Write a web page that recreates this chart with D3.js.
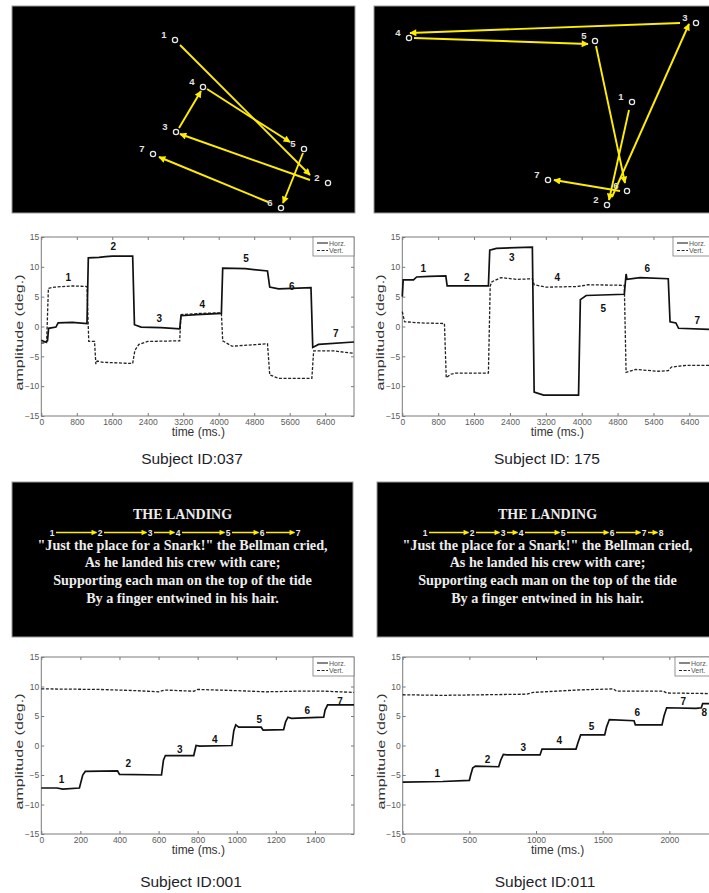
<!DOCTYPE html>
<html>
<head>
<meta charset="utf-8">
<script src="https://cdn.jsdelivr.net/npm/d3@7"></script>
<style>
  body { margin: 0; background: #fff; }
  svg { display: block; font-family: "Liberation Sans", Arial, sans-serif; }
</style>
</head>
<body>
<svg id="fig" width="709" height="893"></svg>
<script>
// ---- scanpath panels: target dots and recorded saccades (stimulus screen px) ----
const dots037 = [[163,34],[316,177],[164,126],[191,81],[292,143],[269,202],[141,148]];
const sacc037 = [[168,39,298,169],[298,174,168,128],[167,122,189,85],[195,83,278,136],[291,147,271,197],[256,196,147,151]];
const dots175 = [[258,96],[233,199],[322,17],[35,32],[221,35],[253,185],[174,174]];
const sacc175 = [[255,104,235,194],[238,191,315,18],[306,17,36,27],[40,32,214,38],[222,40,251,177],[246,185,180,174]];

// ---- reading panels ----
const poemTitle = "THE LANDING";
const poemLines = [
  "\"Just the place for a Snark!\" the Bellman cried,",
  "As he landed his crew with care;",
  "Supporting each man on the top of the tide",
  "By a finger entwined in his hair."
];
const words001 = [40, 88, 138, 166, 216, 250, 286];
const words011 = [48, 95, 126, 144, 186, 235, 267, 284];

// ---- eye movement traces [time ms, amplitude deg] ----
const horz037 = [[0,-2.3],[90,-2.6],[140,-2.4],[165,-0.3],[330,-0.1],[380,0.6],[700,0.7],[1030,0.5],[1060,11.5],[1300,11.6],[1450,11.7],[1600,11.8],[2060,11.8],[2100,0.3],[2250,-0.1],[2700,-0.2],[3120,-0.4],[3150,1.8],[3500,2.0],[4060,2.2],[4090,9.8],[4600,9.7],[5100,9.3],[5150,6.6],[5350,6.3],[6080,6.5],[6120,-3.5],[6250,-3.0],[7050,-2.6]];
const vert037 = [[0,-2.8],[120,-2.7],[160,6.4],[300,6.6],[700,6.8],[1030,6.7],[1070,-2.5],[1200,-2.5],[1230,-6.3],[1260,-5.8],[1400,-6.0],[2060,-6.2],[2110,-4.0],[2200,-3.0],[2400,-2.5],[3120,-2.4],[3150,2.0],[3600,2.2],[4060,2.3],[4090,-2.4],[4300,-3.3],[5100,-2.9],[5150,-8.1],[5350,-8.7],[6100,-8.7],[6140,-4.1],[6600,-4.1],[7050,-4.5]];
const marks037 = [[609,8.3],[1624,13.5],[2662,1.3],[3632,3.7],[4617,11.4],[5647,6.8],[6640,-1.2]];

const horz175 = [[0,5.0],[20,7.8],[250,7.8],[320,8.3],[600,8.4],[970,8.5],[1000,6.8],[1920,6.8],[1950,12.8],[2100,13.1],[2900,13.3],[2940,-11.0],[3150,-11.5],[3930,-11.5],[3970,4.5],[4100,5.2],[4950,5.4],[4990,8.8],[5010,7.9],[5300,8.2],[5930,8.0],[5970,0.8],[6100,0.6],[6160,-0.3],[6950,-0.5]];
const vert175 = [[0,2.5],[50,0.8],[400,0.6],[940,0.5],[980,-8.6],[1080,-8.0],[1200,-7.8],[1920,-7.8],[1960,6.8],[2000,7.5],[2200,8.2],[2550,7.9],[2900,8.0],[2940,7.0],[3200,6.6],[3900,6.7],[4150,7.0],[4950,6.9],[4990,-7.7],[5200,-7.2],[5700,-7.5],[5930,-7.4],[6000,-6.8],[6350,-6.5],[6950,-6.5]];
const marks175 = [[468,9.8],[1435,8.3],[2439,11.6],[3457,8.2],[4483,3.1],[5465,9.7],[6580,1.1]];

const horz001 = [[0,-7.2],[80,-7.2],[110,-7.4],[195,-7.2],[212,-5.0],[225,-4.4],[390,-4.3],[400,-4.9],[615,-5.0],[625,-2.5],[635,-1.7],[780,-1.7],[792,0.0],[810,-0.1],[975,0.0],[985,2.5],[995,3.5],[1010,3.1],[1125,3.1],[1135,2.6],[1240,2.7],[1250,4.0],[1262,4.8],[1280,4.6],[1445,4.8],[1452,6.0],[1465,6.9],[1600,6.9]];
const vert001 = [[0,9.6],[300,9.5],[480,9.3],[600,9.1],[630,9.4],[780,9.2],[800,9.5],[1000,9.3],[1150,9.1],[1300,9.2],[1450,9.2],[1600,9.0]];
const marks001 = [[104,-5.8],[445,-3.0],[709,-0.6],[888,1.0],[1115,4.4],[1361,5.9],[1528,7.5]];

const horz011 = [[0,-6.2],[300,-6.1],[500,-5.9],[510,-5.0],[525,-3.8],[545,-3.5],[720,-3.6],[735,-2.5],[755,-1.5],[780,-1.6],[1030,-1.6],[1045,-0.6],[1300,-0.6],[1315,0.5],[1335,1.8],[1515,1.8],[1530,3.2],[1550,4.4],[1735,4.2],[1745,3.5],[1945,3.5],[1960,5.0],[1980,6.4],[2200,6.3],[2240,6.4],[2250,7.1],[2350,7.1]];
const vert011 = [[0,8.6],[300,8.5],[930,8.7],[980,9.0],[1300,9.4],[1580,9.6],[1605,9.2],[1955,9.2],[1980,8.9],[2300,8.8],[2350,8.7]];
const marks011 = [[260,-4.75],[637,-2.3],[905,-0.3],[1175,0.8],[1417,3.2],[1760,5.6],[2105,7.4],[2262,5.6]];

const ticksLong = [0,800,1600,2400,3200,4000,4800,5600,6400];
const labels037 = ["0","800","1600","2400","3200","4000","4800","5600","6400"];
const labels175 = ["0","800","1600","2400","3200","4000","4800","5400","6400"];
const ticks001 = [0,200,400,600,800,1000,1200,1400];
const ticks011 = [0,500,1000,1500,2000];
const yTicks = [-15,-10,-5,0,5,10,15];

const svg = d3.select('#fig');
const yellow = '#ffee00';

svg.append('defs').append('marker')
    .attr('id', 'ah')
    .attr('viewBox', '0 0 10 10')
    .attr('refX', 9).attr('refY', 5)
    .attr('markerUnits', 'userSpaceOnUse')
    .attr('markerWidth', 8).attr('markerHeight', 7)
    .attr('orient', 'auto')
  .append('path')
    .attr('d', 'M0,0L10,5L0,10z')
    .attr('fill', yellow);

svg.select('defs').append('marker')
    .attr('id', 'ahs')
    .attr('viewBox', '0 0 10 10')
    .attr('refX', 9).attr('refY', 5)
    .attr('markerUnits', 'userSpaceOnUse')
    .attr('markerWidth', 6.5).attr('markerHeight', 5.5)
    .attr('orient', 'auto')
  .append('path')
    .attr('d', 'M0,0L10,5L0,10z')
    .attr('fill', yellow);

function blackPanel(left, top, w, h) {
  return svg.append('rect')
      .attr('x', left).attr('y', top)
      .attr('width', w).attr('height', h)
      .attr('fill', '#000')
      .attr('stroke', '#9a9a9a')
      .attr('stroke-width', 1);
}

// scanpath over the dot stimulus
function scanPanel(left, top, dots, sacc) {
  const w = 343, h = 207;
  blackPanel(left, top, w, h);
  const x = d3.scaleLinear().domain([0, w]).range([left, left + w]);
  const y = d3.scaleLinear().domain([0, h]).range([top, top + h]);
  const g = svg.append('g');

  g.selectAll('line').data(sacc).join('line')
      .attr('x1', d => x(d[0])).attr('y1', d => y(d[1]))
      .attr('x2', d => x(d[2])).attr('y2', d => y(d[3]))
      .attr('stroke', yellow)
      .attr('stroke-width', 1.9)
      .attr('marker-end', 'url(#ah)');

  g.selectAll('circle').data(dots).join('circle')
      .attr('cx', d => x(d[0])).attr('cy', d => y(d[1]))
      .attr('r', 2.6)
      .attr('fill', '#000')
      .attr('stroke', '#e8e8e8')
      .attr('stroke-width', 1.3);

  g.selectAll('text').data(dots).join('text')
      .attr('x', d => x(d[0]) - 11).attr('y', d => y(d[1]) - 2.5)
      .attr('text-anchor', 'middle')
      .attr('font-size', 9.5)
      .attr('font-weight', 'bold')
      .attr('fill', '#e0e0e0')
      .text((d, i) => i + 1);
}

// text stimulus with the reading order
function readPanel(left, top, words) {
  const w = 341, h = 155;
  blackPanel(left, top, w, h);
  const x = d3.scaleLinear().domain([0, w]).range([left, left + w]);
  const cx = x(w / 2);
  const g = svg.append('g').attr('font-family', '"Liberation Serif", "Times New Roman", serif')
      .attr('font-weight', 'bold').attr('fill', '#ececec');

  g.append('text').attr('x', cx).attr('y', top + 36.5)
      .attr('text-anchor', 'middle').attr('font-size', 14).text(poemTitle);

  g.selectAll('.ln').data(poemLines).join('text')
      .attr('class', 'ln')
      .attr('x', cx).attr('y', (d, i) => top + 67.5 + i * 17.7)
      .attr('text-anchor', 'middle').attr('font-size', 14.2)
      .text(d => d);

  const rowY = top + 50.5;
  svg.append('g').selectAll('line').data(words.slice(1)).join('line')
      .attr('x1', (d, i) => x(words[i]) + 4)
      .attr('x2', d => x(d) - 3.5)
      .attr('y1', rowY).attr('y2', rowY)
      .attr('stroke', yellow).attr('stroke-width', 1.5)
      .attr('marker-end', 'url(#ahs)');

  svg.append('g').selectAll('text').data(words).join('text')
      .attr('x', d => x(d)).attr('y', rowY + 3)
      .attr('text-anchor', 'middle')
      .attr('font-size', 8.5).attr('font-weight', 'bold')
      .attr('fill', '#e8e8e8')
      .text((d, i) => i + 1);
}

// horizontal / vertical gaze amplitude over time
function traceChart(cfg) {
  const g = svg.append('g');
  const x = d3.scaleLinear().domain([0, cfg.xMax]).range([cfg.left, cfg.right]);
  const y = d3.scaleLinear().domain([-15, 15]).range([cfg.bottom, cfg.top]);
  const axisColor = '#7a7a7a';

  g.append('rect')
      .attr('x', cfg.left).attr('y', cfg.top)
      .attr('width', cfg.right - cfg.left).attr('height', cfg.bottom - cfg.top)
      .attr('fill', '#fff').attr('stroke', axisColor).attr('stroke-width', 1);

  const styleAxis = sel => {
    sel.select('.domain').remove();
    sel.selectAll('line').attr('stroke', axisColor);
    sel.selectAll('text').attr('fill', '#5a5a5a').attr('font-size', 8.5)
        .attr('font-family', '"Liberation Sans", Arial, sans-serif');
  };

  g.append('g').attr('transform', `translate(0,${cfg.bottom})`)
      .call(d3.axisBottom(x).tickValues(cfg.ticks).tickFormat((d, i) => cfg.tickLabels[i])
        .tickSizeInner(-3).tickSizeOuter(0).tickPadding(2.5))
      .call(styleAxis);
  g.append('g').attr('transform', `translate(0,${cfg.top})`)
      .call(d3.axisTop(x).tickValues(cfg.ticks).tickFormat('').tickSizeInner(-3).tickSizeOuter(0))
      .call(styleAxis);
  g.append('g').attr('transform', `translate(${cfg.left},0)`)
      .call(d3.axisLeft(y).tickValues(yTicks).tickSizeInner(-3).tickSizeOuter(0).tickPadding(2))
      .call(styleAxis);
  g.append('g').attr('transform', `translate(${cfg.right},0)`)
      .call(d3.axisRight(y).tickValues(yTicks).tickFormat('').tickSizeInner(-3).tickSizeOuter(0))
      .call(styleAxis);

  const line = d3.line().x(d => x(d[0])).y(d => y(d[1]));

  g.append('path').datum(cfg.vert)
      .attr('d', line).attr('fill', 'none')
      .attr('stroke', '#222').attr('stroke-width', 1.3)
      .attr('stroke-dasharray', '3,1.6');
  g.append('path').datum(cfg.horz)
      .attr('d', line).attr('fill', 'none')
      .attr('stroke', '#111').attr('stroke-width', 1.7);

  g.selectAll('.mk').data(cfg.marks).join('text')
      .attr('class', 'mk')
      .attr('x', d => x(d[0])).attr('y', d => y(d[1]))
      .attr('dy', '0.36em')
      .attr('text-anchor', 'middle')
      .attr('font-size', 10).attr('font-weight', 'bold').attr('fill', '#111')
      .text((d, i) => i + 1);

  // legend
  const lg = g.append('g').attr('transform', `translate(${cfg.right - 41},${cfg.top})`);
  lg.append('rect').attr('width', 41).attr('height', 19)
      .attr('fill', '#fff').attr('stroke', axisColor).attr('stroke-width', 0.8);
  [['Horz.', null], ['Vert.', '3,1.6']].forEach(([name, dash], i) => {
    lg.append('line').attr('x1', 4).attr('x2', 15)
        .attr('y1', 6 + i * 7.5).attr('y2', 6 + i * 7.5)
        .attr('stroke', '#222').attr('stroke-width', 1.1)
        .attr('stroke-dasharray', dash);
    lg.append('text').attr('x', 16).attr('y', 8.5 + i * 7.5)
        .attr('font-size', 7).attr('fill', '#555').text(name);
  });

  // axis titles
  const midY = (cfg.top + cfg.bottom) / 2 + 6;
  g.append('text')
      .attr('transform', `translate(${cfg.left - 18},${midY}) rotate(-90)`)
      .attr('text-anchor', 'middle')
      .attr('font-size', 11).attr('fill', '#333')
      .attr('textLength', 116).attr('lengthAdjust', 'spacingAndGlyphs')
      .text('amplitude (deg.)');
  g.append('text')
      .attr('x', (x(0) + cfg.labelMid)).attr('y', cfg.bottom + 20)
      .attr('text-anchor', 'middle')
      .attr('font-size', 12).attr('fill', '#333')
      .text('time (ms.)');

  svg.append('text')
      .attr('x', cfg.subjectX).attr('y', cfg.subjectY)
      .attr('text-anchor', 'middle')
      .attr('font-size', 15.5).attr('fill', '#1e1e2a')
      .text(cfg.subject);
}

scanPanel(12, 6, dots037, sacc037);
scanPanel(374, 6, dots175, sacc175);
readPanel(12, 482, words001);
readPanel(377, 482, words011);

traceChart({ left: 41.3, right: 354, top: 237, bottom: 416, xMax: 7050,
  ticks: ticksLong, tickLabels: labels037, horz: horz037, vert: vert037, marks: marks037,
  labelMid: 157, subject: 'Subject ID:037', subjectX: 192, subjectY: 464 });
traceChart({ left: 402.3, right: 714, top: 237, bottom: 416, xMax: 6950,
  ticks: ticksLong, tickLabels: labels175, horz: horz175, vert: vert175, marks: marks175,
  labelMid: 155, subject: 'Subject ID: 175', subjectX: 547, subjectY: 464 });
traceChart({ left: 41.3, right: 354, top: 657, bottom: 834, xMax: 1600,
  ticks: ticks001, tickLabels: ticks001.map(String), horz: horz001, vert: vert001, marks: marks001,
  labelMid: 157, subject: 'Subject ID:001', subjectX: 191, subjectY: 887 });
traceChart({ left: 402.7, right: 716, top: 657, bottom: 834, xMax: 2350,
  ticks: ticks011, tickLabels: ticks011.map(String), horz: horz011, vert: vert011, marks: marks011,
  labelMid: 155, subject: 'Subject ID:011', subjectX: 545, subjectY: 887 });
</script>
</body>
</html>
